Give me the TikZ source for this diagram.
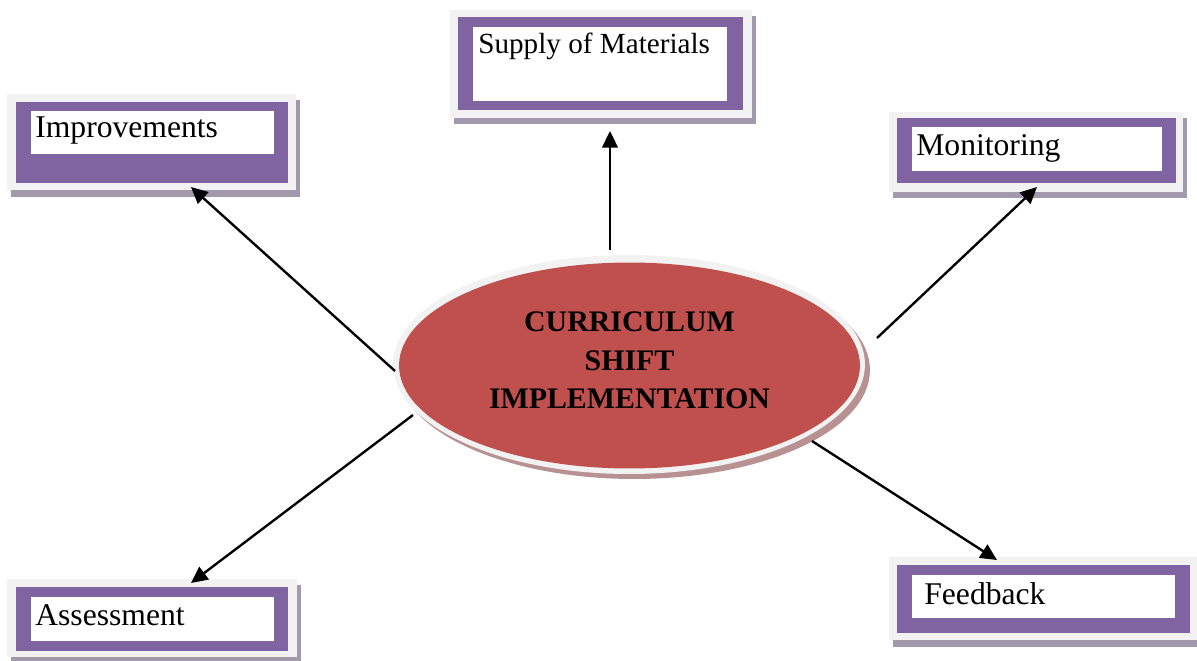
\documentclass[tikz,border=0pt]{standalone}
\usepackage{fontspec}
\setmainfont{Liberation Serif}
\usetikzlibrary{arrows.meta,shapes.geometric}
\definecolor{frameLight}{RGB}{242,242,242}
\definecolor{frameShade}{RGB}{162,154,172}
\definecolor{bandPurple}{RGB}{128,100,162}
\definecolor{hubRed}{RGB}{192,80,77}
\definecolor{hubShade}{RGB}{184,146,146}
\begin{document}
\begin{tikzpicture}[x=0.02cm,y=-0.02cm,
  lbl/.style={anchor=base west, inner sep=0, font=\fontsize{18}{21}\selectfont},
  link/.style={line width=1.35pt, -{Triangle[length=0.33cm,width=0.31cm]}}]
\useasboundingbox (0,0) rectangle (1197,660);

% ---- Supply of Materials
\fill[frameShade] (454,16) rectangle (756,124);
\fill[frameLight] (450,10) rectangle (752,118);
\fill[bandPurple] (458,17) rectangle (743,110);
\fill[white] (473,27) rectangle (727,101);
\node[lbl, font=\fontsize{16.6}{20}\selectfont] (sup) at (478,53) {Supply of Materials};

% ---- Improvements
\fill[frameShade] (11,100) rectangle (300,197);
\fill[frameLight] (7,94) rectangle (296,190);
\fill[bandPurple] (16,102) rectangle (288,183);
\fill[white] (31,111) rectangle (274,154);
\node[lbl] (imp) at (35,137) {Improvements};

% ---- Monitoring
\fill[frameShade] (893,118) rectangle (1187,198);
\fill[frameLight] (889,112) rectangle (1183,192);
\fill[bandPurple] (897,118) rectangle (1176,183);
\fill[white] (912,127) rectangle (1162,171);
\node[lbl] (mon) at (916,155) {Monitoring};

% ---- Feedback
\fill[frameShade] (893,563) rectangle (1201,647);
\fill[frameLight] (889,557) rectangle (1197,640);
\fill[bandPurple] (897,565) rectangle (1190,633);
\fill[white] (912,575) rectangle (1175,618);
\node[lbl] (fee) at (924,604) {Feedback};

% ---- Assessment
\fill[frameShade] (11,585) rectangle (301,663);
\fill[frameLight] (7,579) rectangle (297,657);
\fill[bandPurple] (16,587) rectangle (288,651);
\fill[white] (31,597) rectangle (274,641);
\node[lbl] (ass) at (35,625) {Assessment};

% ---- central ellipse
\fill[hubShade] (634,370) ellipse [x radius=4.72cm, y radius=2.18cm];
\node[ellipse, fill=frameLight, minimum width=9.44cm, minimum height=4.38cm, inner sep=0] (ring) at (629,364.5) {};
\node[ellipse, fill=hubRed, minimum width=9.22cm, minimum height=4.12cm, inner sep=0] (hub) at (629.5,365.5) {};
\node[align=center, inner sep=0, font=\fontsize{17}{21.8}\selectfont\bfseries] (title) at (629.5,360.5)
  {CURRICULUM\\SHIFT\\IMPLEMENTATION};

% ---- connector end points
\coordinate (supFrom) at (610,250);  \coordinate (supTo) at (610,131);
\coordinate (impFrom) at (395,371);  \coordinate (impTo) at (191,187);
\coordinate (monFrom) at (877,338);  \coordinate (monTo) at (1037,187);
\coordinate (feeFrom) at (812,441);  \coordinate (feeTo) at (997,560);
\coordinate (assFrom) at (413,415);  \coordinate (assTo) at (191,583);

\draw[link] (supFrom) -- (supTo);
\draw[link] (impFrom) -- (impTo);
\draw[link] (monFrom) -- (monTo);
\draw[link] (feeFrom) -- (feeTo);
\draw[link] (assFrom) -- (assTo);
\end{tikzpicture}
\end{document}
